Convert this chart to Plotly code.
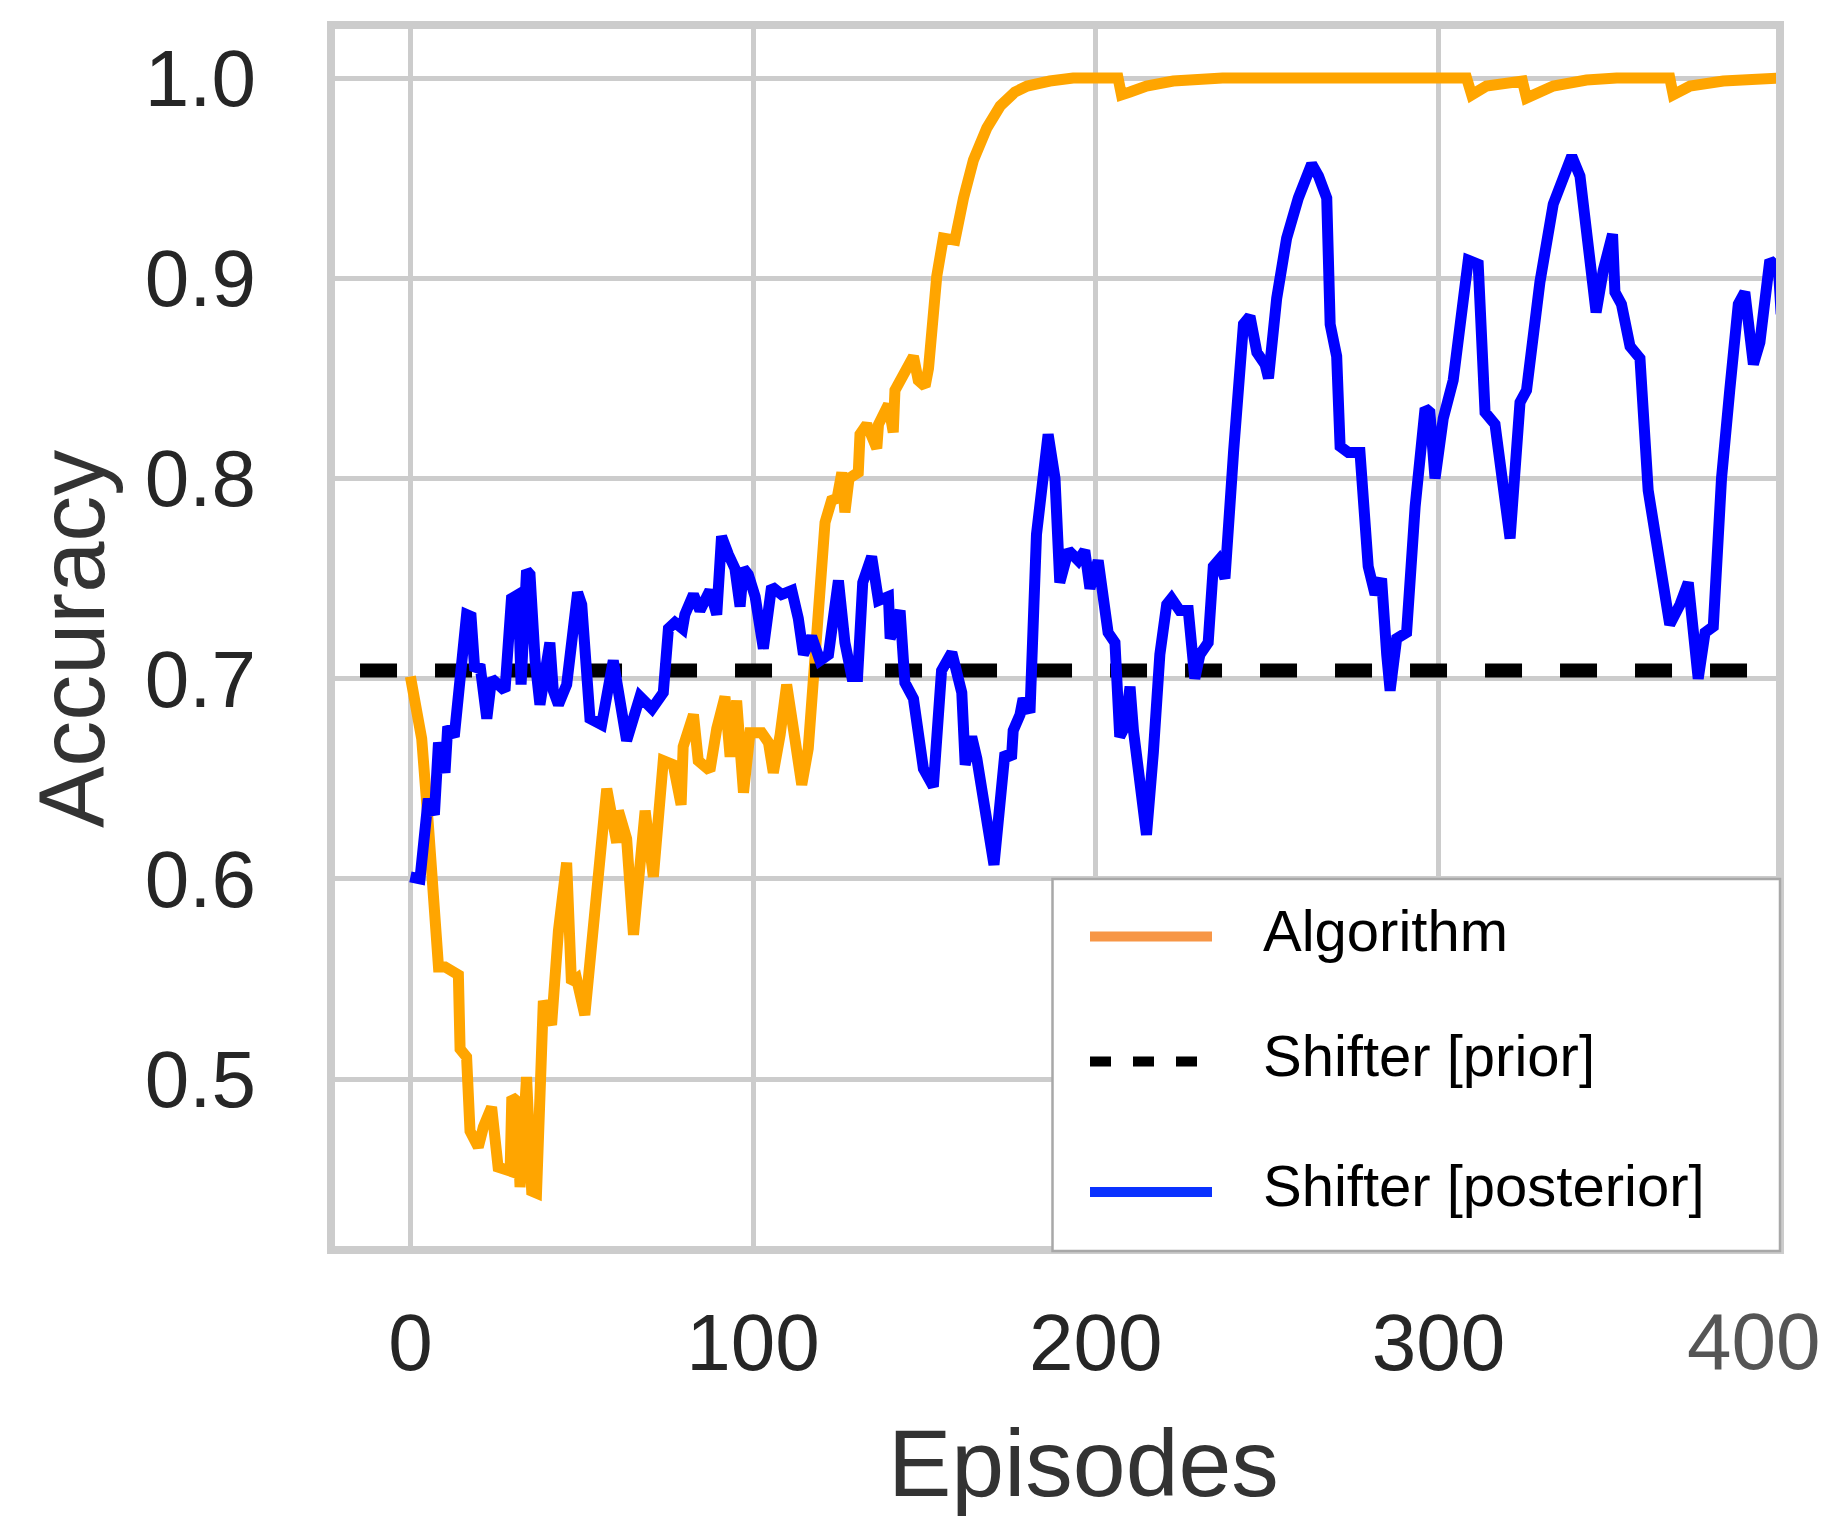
import plotly.graph_objects as go

# ---------------- data ----------------
alg_ep = [0, 3.3, 5.2, 8.2, 10.1, 14, 14.5, 16.4, 17.4, 19.8, 21.3, 23.7, 25.6, 29.1, 29.6, 31, 32,
          33.9, 35.4, 36.8, 38.8, 41.2, 43.2, 45.6, 47, 48.5, 50.9, 54.8, 57.3, 60.2, 60.7, 63.1,
          65.1, 68.5, 70.9, 73.8, 76.7, 79.0, 79.6, 82.6, 84.0, 87.4, 89.4, 91.8, 93.3, 95.2, 97.2,
          99.1, 102.5, 104.5, 105.9, 107.9, 109.8, 112.2, 114.2, 116.1, 118.1, 119.5, 121.0, 122.9,
          124.5, 125.9, 126.8, 128, 130.7, 131.2, 133.2, 136.1, 136.6, 139.5, 140.9, 141.4, 144.3,
          146.8, 148.2, 150.2, 151.2, 153.6, 155.5, 158.9, 161.4, 164.3, 168.2, 172.1, 176.4, 180,
          186.6, 193.4, 206.5, 207.5, 210, 214.8, 222.6, 237, 308.2, 309.7, 314, 324.5, 325.7,
          333.5, 343.2, 352, 367.5, 368.5, 373.4, 383.1, 400]
alg_acc = [0.701, 0.670, 0.628, 0.556, 0.556, 0.552, 0.515, 0.511, 0.474, 0.466, 0.476, 0.486, 0.456,
           0.454, 0.491, 0.489, 0.446, 0.501, 0.444, 0.443, 0.539, 0.527, 0.574, 0.608, 0.548, 0.550,
           0.532, 0.597, 0.645, 0.618, 0.634, 0.620, 0.572, 0.634, 0.601, 0.659, 0.657, 0.637, 0.666,
           0.682, 0.659, 0.654, 0.675, 0.691, 0.661, 0.689, 0.643, 0.673, 0.673, 0.668, 0.653, 0.672,
           0.697, 0.670, 0.647, 0.665, 0.707, 0.745, 0.778, 0.789, 0.790, 0.803, 0.783, 0.800, 0.803,
           0.822, 0.827, 0.815, 0.827, 0.837, 0.823, 0.844, 0.852, 0.861, 0.849, 0.846, 0.855, 0.901,
           0.920, 0.919, 0.940, 0.959, 0.975, 0.986, 0.993, 0.996, 0.9985, 1.0, 1.0, 0.9916, 0.993,
           0.996, 0.9985, 1.0, 1.0, 0.9916, 0.996, 0.9985, 0.990, 0.996, 0.999, 1.0, 1.0, 0.9916,
           0.996, 0.9985, 1.0]

post_ep = [0, 2.8, 5.2, 7.0, 8.2, 10.1, 10.9, 12.8, 16.4, 17.7, 18.8, 20.3, 22.3, 23.7, 27.6, 29.5,
           31.5, 32.3, 33.9, 34.9, 36.4, 37.8, 40.7, 41.7, 43.2, 45.6, 48.8, 50.0, 52.4, 55.8, 59.2,
           63.1, 67.0, 70.5, 73.8, 75.3, 77.2, 79.4, 80.1, 82.6, 84.5, 87.4, 89.4, 90.8, 92.8, 94.7,
           96.2, 97.2, 98.6, 100.6, 103.0, 105.4, 108.3, 111.3, 113.2, 114.7, 117.1, 119.5, 122.0,
           124.9, 126.8, 128.8, 130.5, 132.0, 134.6, 136.6, 139.5, 140.0, 142.9, 144.3, 146.8, 147.7,
           149.7, 152.6, 153.6, 155.0, 158.0, 160.9, 161.9, 163.8, 165.3, 168.2, 170.3, 173.5, 175.4,
           175.9, 177.9, 178.8, 180.8, 182.7, 186.1, 188.1, 189.5, 192.0, 194.9, 196.8, 198.3, 200.7,
           202.7, 203.6, 205.6, 207.0, 208.5, 210.0, 211.0, 214.8, 216.8, 218.7, 220.7, 222.1, 224.5,
           227.0, 228.9, 230.4, 232.8, 234.3, 235.8, 237.7, 240.2, 243.1, 245.0, 247.0, 249.4, 250.4,
           252.8, 255.7, 259.1, 263.0, 265.0, 267.4, 268.4, 270.3, 271.3, 273.7, 277.1, 278.1, 279.5,
           281.5, 283.4, 284.9, 285.9, 287.8, 290.7, 293.2, 296.1, 297.5, 299.0, 301.4, 304.3, 308.7,
           311.6, 313.6, 316.5, 320.9, 323.8, 325.7, 329.6, 333.5, 338.9, 341.3, 344.2, 346.0, 348.1,
           350.8, 351.5, 353.4, 355.9, 358.8, 361.2, 363.7, 365.1, 367.5, 370.5, 372.9, 375.8, 377.8,
           380.2, 382.6, 385.0, 387.5, 389.4, 391.9, 393.8, 396.7, 399.2, 400.0]
post_acc = [0.601, 0.600, 0.640, 0.632, 0.668, 0.653, 0.676, 0.671, 0.732, 0.731, 0.704, 0.707, 0.680,
            0.700, 0.694, 0.740, 0.742, 0.697, 0.754, 0.752, 0.709, 0.687, 0.718, 0.694, 0.687, 0.697,
            0.743, 0.737, 0.680, 0.677, 0.709, 0.669, 0.691, 0.685, 0.693, 0.725, 0.728, 0.725, 0.732,
            0.742, 0.734, 0.744, 0.732, 0.771, 0.762, 0.755, 0.736, 0.755, 0.752, 0.741, 0.715, 0.746,
            0.742, 0.744, 0.730, 0.712, 0.721, 0.709, 0.712, 0.749, 0.718, 0.701, 0.701, 0.748, 0.761,
            0.739, 0.741, 0.720, 0.734, 0.698, 0.690, 0.676, 0.655, 0.646, 0.666, 0.704, 0.713, 0.693,
            0.657, 0.671, 0.660, 0.630, 0.607, 0.663, 0.660, 0.674, 0.682, 0.690, 0.683, 0.772, 0.822,
            0.800, 0.748, 0.764, 0.759, 0.764, 0.745, 0.759, 0.737, 0.723, 0.718, 0.671, 0.676, 0.696,
            0.674, 0.622, 0.663, 0.712, 0.737, 0.740, 0.734, 0.734, 0.700, 0.712, 0.718, 0.756, 0.759,
            0.750, 0.813, 0.877, 0.881, 0.863, 0.857, 0.850, 0.890, 0.920, 0.940, 0.957, 0.951, 0.940,
            0.877, 0.861, 0.816, 0.813, 0.813, 0.778, 0.756, 0.742, 0.750, 0.712, 0.694, 0.720, 0.723,
            0.786, 0.835, 0.833, 0.800, 0.830, 0.849, 0.909, 0.907, 0.833, 0.827, 0.770, 0.838, 0.844,
            0.898, 0.937, 0.961, 0.951, 0.901, 0.883, 0.904, 0.922, 0.893, 0.887, 0.866, 0.860, 0.794,
            0.767, 0.745, 0.727, 0.737, 0.748, 0.700, 0.723, 0.726, 0.800, 0.844, 0.887, 0.893, 0.857,
            0.868, 0.909, 0.905, 0.882]

prior_ep = [-14.7, 406]
prior_acc = [0.704, 0.704]

series_names = ["Algorithm", "Shifter [prior]", "Shifter [posterior]"]
x_tick_vals = [0, 100, 200, 300, 400]
y_tick_vals = [0.5, 0.6, 0.7, 0.8, 0.9, 1.0]
y_tick_text = ["0.5", "0.6", "0.7", "0.8", "0.9", "1.0"]
x_title = "Episodes"
y_title = "Accuracy"

# ---------------- layout geometry (pixels) ----------------
W, H = 1823, 1524
L, R, T, B = 335, 1776, 29, 1246
X_RANGE = [-22.0, 398.5]
Y_RANGE = [0.41658, 1.02448]
FONT = "Liberation Sans, Arial, Helvetica, sans-serif"
GRID = "#cccccc"


def px_x(p):
    return (p - L) / (R - L)


def px_y(p):
    return (B - p) / (B - T)


fig = go.Figure()
fig.add_trace(go.Scatter(x=alg_ep, y=alg_acc, mode="lines", name=series_names[0],
                         line=dict(color="#FFA500", width=11), showlegend=False))
fig.add_trace(go.Scatter(x=prior_ep, y=prior_acc, mode="lines", name=series_names[1],
                         line=dict(color="#000000", width=14, dash="37px,38px"), showlegend=False))
fig.add_trace(go.Scatter(x=post_ep, y=post_acc, mode="lines", name=series_names[2],
                         line=dict(color="#0000FF", width=11), showlegend=False))

in_range_ticks = [t for t in x_tick_vals if X_RANGE[0] <= t <= X_RANGE[1]]
out_ticks = [t for t in x_tick_vals if t not in in_range_ticks]

fig.update_layout(
    width=W, height=H,
    margin=dict(l=L, r=W - R, t=T, b=H - B, pad=0),
    paper_bgcolor="white", plot_bgcolor="white",
    font=dict(family=FONT, color="#262626"),
    showlegend=False,
    xaxis=dict(range=X_RANGE, tickvals=in_range_ticks, ticktext=[str(t) for t in in_range_ticks],
               showgrid=True, gridcolor=GRID, gridwidth=4.5, zeroline=False,
               showline=True, linecolor=GRID, linewidth=8, mirror=True,
               ticks="", tickfont=dict(size=80, color="#262626", family=FONT),
               ticklabelstandoff=20),
    yaxis=dict(range=Y_RANGE, tickvals=y_tick_vals, ticktext=y_tick_text,
               showgrid=True, gridcolor=GRID, gridwidth=4.5, zeroline=False,
               showline=True, linecolor=GRID, linewidth=8, mirror=True,
               ticks="", tickfont=dict(size=80, color="#262626", family=FONT),
               ticklabelstandoff=55),
)

annotations = []
# tick label that falls at the (cropped) right edge
for t in out_ticks:
    annotations.append(dict(text=str(t), xref="paper", yref="paper", x=px_x(1753), y=px_y(1341),
                            xanchor="center", yanchor="middle", showarrow=False,
                            font=dict(size=80, color="#555555", family=FONT)))
# axis titles
annotations.append(dict(text=x_title, xref="paper", yref="paper", x=px_x(1083), y=px_y(1463),
                        xanchor="center", yanchor="middle", showarrow=False,
                        font=dict(size=95, color="#333333", family=FONT)))
annotations.append(dict(text=y_title, xref="paper", yref="paper", x=px_x(72), y=px_y(639),
                        xanchor="center", yanchor="middle", showarrow=False, textangle=-90,
                        font=dict(size=92, color="#333333", family=FONT)))

# legend (drawn as a box with sample lines and labels)
shapes = [dict(type="rect", xref="paper", yref="paper", layer="above",
               x0=px_x(1052.5), x1=px_x(1780), y0=px_y(1251), y1=px_y(879),
               fillcolor="white", line=dict(color="#a8a8a8", width=2.5))]
legend_colors = ["#F79646", "#000000", "#0A32FF"]
legend_dash = ["solid", "21px,22px", "solid"]
legend_sample_y = [936.5, 1061.5, 1192]
legend_text_y = [930, 1055, 1185]
legend_sample_x1 = [1212, 1198, 1212]
for i, name in enumerate(series_names):
    shapes.append(dict(type="line", xref="paper", yref="paper", layer="above",
                       x0=px_x(1090), x1=px_x(legend_sample_x1[i]),
                       y0=px_y(legend_sample_y[i]), y1=px_y(legend_sample_y[i]),
                       line=dict(color=legend_colors[i], width=10, dash=legend_dash[i])))
    annotations.append(dict(text=name, xref="paper", yref="paper", x=px_x(1261), y=px_y(legend_text_y[i]),
                            xanchor="left", yanchor="middle", showarrow=False,
                            font=dict(size=58, color="#000000", family=FONT)))

fig.update_layout(shapes=shapes, annotations=annotations)
fig.write_html("out.html")
